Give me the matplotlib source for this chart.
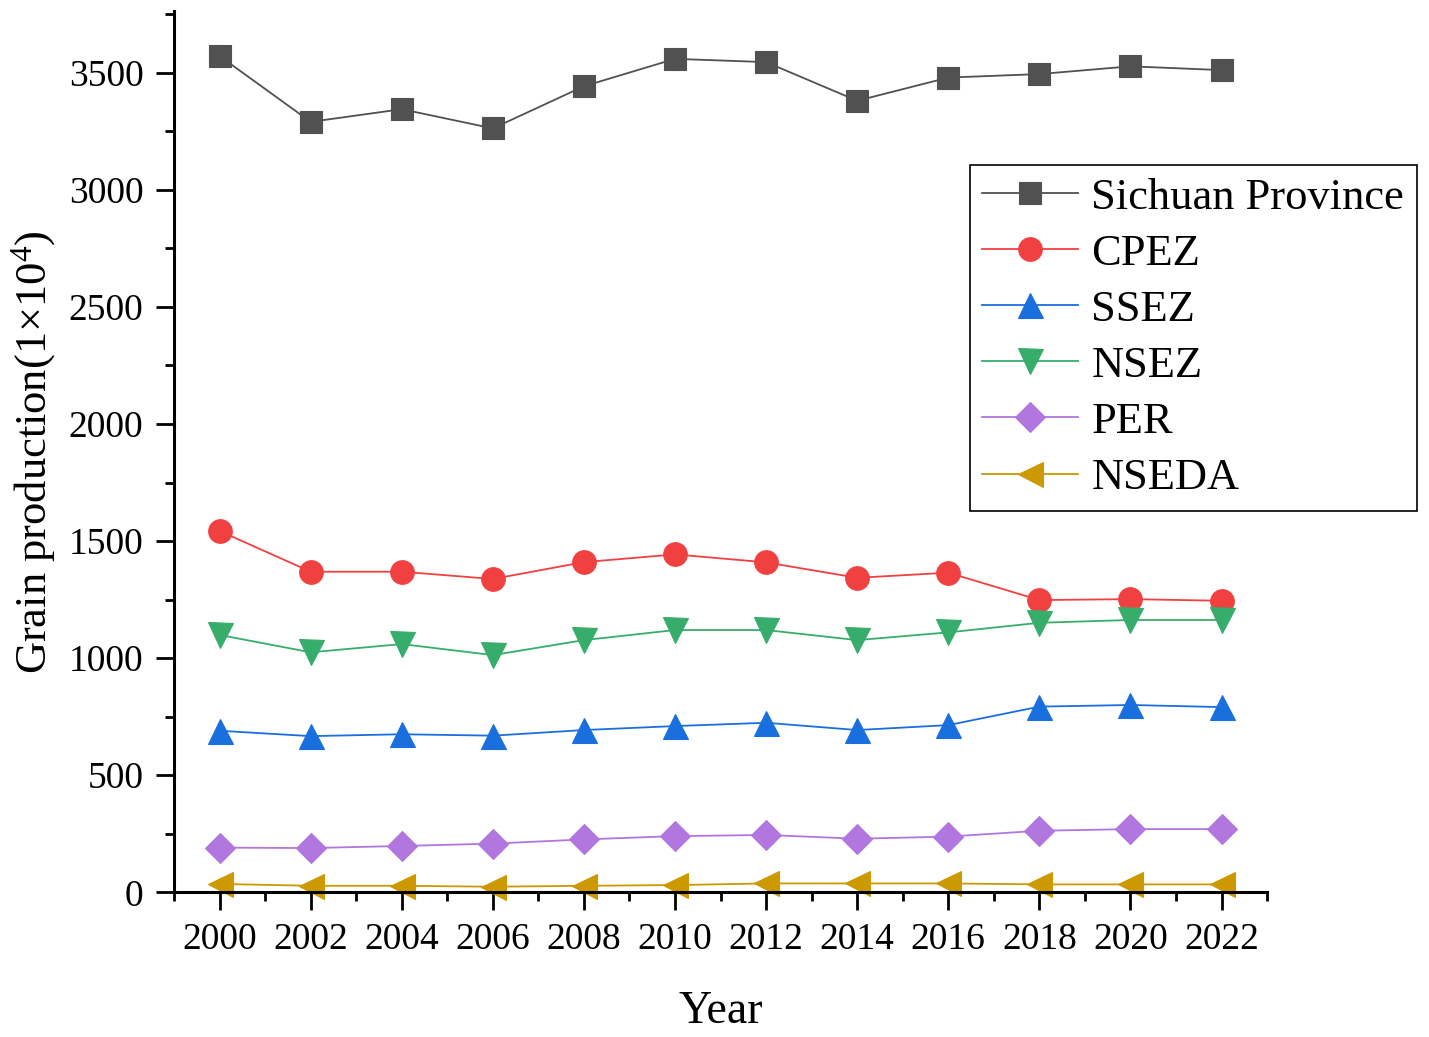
import matplotlib
matplotlib.use("Agg")
import matplotlib.pyplot as plt
from matplotlib.ticker import MultipleLocator

# fuente tipo Times
plt.rcParams['font.family'] = ['Liberation Serif', 'DejaVu Serif']
plt.rcParams['mathtext.fontset'] = 'custom'
plt.rcParams['mathtext.rm'] = 'Liberation Serif'
plt.rcParams['mathtext.it'] = 'Liberation Serif'
plt.rcParams['mathtext.bf'] = 'Liberation Serif'

# datos
years = [2000, 2002, 2004, 2006, 2008, 2010, 2012, 2014, 2016, 2018, 2020, 2022]
sichuan = [3571, 3290, 3344, 3262, 3442, 3559, 3545, 3380, 3479, 3494, 3527, 3511]
cpez = [1543, 1369, 1369, 1338, 1410, 1443, 1409, 1343, 1365, 1248, 1252, 1245]
ssez = [690, 667, 675, 669, 693, 710, 724, 693, 714, 793, 800, 791]
nsez = [1099, 1025, 1060, 1013, 1077, 1120, 1120, 1077, 1110, 1151, 1163, 1163]
per = [191, 189, 198, 208, 226, 240, 245, 229, 238, 263, 270, 270]
nseda = [36, 28, 28, 24, 28, 31, 38, 38, 38, 34, 34, 34]

labels = ["Sichuan Province", "CPEZ", "SSEZ", "NSEZ", "PER", "NSEDA"]
series = [sichuan, cpez, ssez, nsez, per, nseda]
colors = ["#515151", "#F14040", "#1A6FDF", "#37AD6B", "#B177DE", "#CC9900"]
markers = ["s", "o", "^", "v", "D", "<"]
msizes = [16, 17, 18, 18, 15, 18]

fig = plt.figure(figsize=(14.29, 10.37), dpi=100)
ax = fig.add_axes([0.1218, 0.1395, 0.7649, 0.8496])

for vals, lab, c, m, ms in zip(series, labels, colors, markers, msizes):
    ax.plot(years, vals, color=c, marker=m, markersize=ms, linewidth=1.3,
            markeredgecolor=c, markeredgewidth=0.8, label=lab, clip_on=False)

ax.set_xlim(1999, 2023)
ax.set_ylim(0, 3762)
ax.xaxis.set_major_locator(MultipleLocator(2))
ax.xaxis.set_minor_locator(MultipleLocator(1))
ax.yaxis.set_major_locator(MultipleLocator(500))
ax.yaxis.set_minor_locator(MultipleLocator(250))

# solo ejes izquierdo e inferior
ax.spines['top'].set_visible(False)
ax.spines['right'].set_visible(False)
for s in ['left', 'bottom']:
    ax.spines[s].set_linewidth(2.2)

ax.tick_params(which='major', direction='out', length=13, width=2, labelsize=27, pad=9)
ax.tick_params(which='minor', direction='out', length=6.5, width=2)

ax.set_xlabel("Year", fontsize=33, labelpad=24)
ax.set_ylabel("Grain production(1×10$^{4}$)", fontsize=32, labelpad=8)

leg = ax.legend(loc='upper left', bbox_to_anchor=(970 / 1429, 1 - 165 / 1037),
                bbox_transform=fig.transFigure, borderaxespad=0, fontsize=32,
                frameon=True, fancybox=False, framealpha=1, edgecolor='black',
                borderpad=0.28, labelspacing=0.36, handlelength=2.15,
                handletextpad=0.3)
leg.get_frame().set_linewidth(1.2)

fig.savefig("out.png", dpi=100)
